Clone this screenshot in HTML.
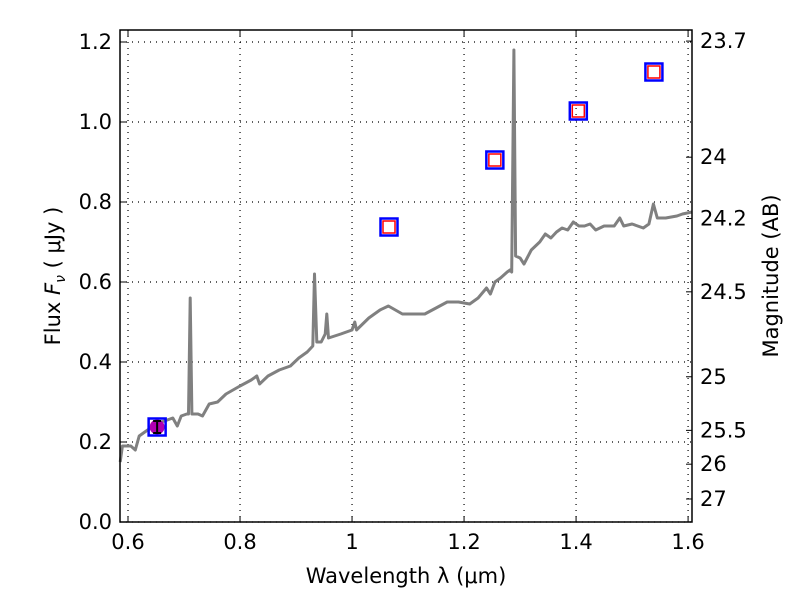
<!DOCTYPE html>
<html><head><meta charset="utf-8"><style>
body{margin:0;background:#fff;font-family:"Liberation Sans","DejaVu Sans",sans-serif}
svg text{font-family:"DejaVu Sans","Liberation Sans",sans-serif}
</style></head><body>
<svg id="chart" width="800" height="600" xmlns="http://www.w3.org/2000/svg">
<rect width="800" height="600" fill="#fff"/>
<g id="grid"></g>
<g id="marks"></g>
<rect x="120" y="30" width="572" height="492" fill="none" stroke="#000" stroke-width="1.5"/>
<g id="axes"></g>
<text x="406" y="583" font-size="21" text-anchor="middle">Wavelength  λ (μm)</text>
<text transform="translate(60,276) rotate(-90)" font-size="21" text-anchor="middle">Flux  <tspan font-style="italic">F</tspan><tspan font-style="italic" font-size="14" dy="5">ν</tspan><tspan dy="-5">  ( μJy )</tspan></text>
<text transform="translate(778,276) rotate(-90)" font-size="21" text-anchor="middle">Magnitude (AB)</text>
</svg>
<script>
const specWave=[0.586,0.590,0.605,0.613,0.620,0.640,0.660,0.680,0.688,0.695,0.705,0.708,0.711,0.714,0.725,0.733,0.745,0.760,0.775,0.800,0.820,0.830,0.835,0.850,0.870,0.890,0.905,0.920,0.930,0.933,0.937,0.945,0.952,0.955,0.958,0.980,1.000,1.005,1.008,1.030,1.050,1.065,1.090,1.110,1.130,1.150,1.170,1.190,1.210,1.225,1.240,1.247,1.255,1.265,1.277,1.282,1.285,1.289,1.292,1.300,1.307,1.320,1.335,1.345,1.355,1.365,1.375,1.385,1.395,1.405,1.415,1.425,1.435,1.450,1.468,1.478,1.485,1.500,1.520,1.530,1.538,1.545,1.560,1.580,1.590,1.607];
const specFlux=[0.15,0.19,0.19,0.18,0.215,0.235,0.25,0.26,0.24,0.265,0.27,0.27,0.56,0.27,0.27,0.265,0.295,0.30,0.32,0.34,0.355,0.365,0.345,0.365,0.38,0.39,0.41,0.425,0.44,0.62,0.45,0.45,0.47,0.52,0.46,0.47,0.48,0.50,0.48,0.51,0.53,0.54,0.52,0.52,0.52,0.535,0.55,0.55,0.545,0.56,0.585,0.57,0.60,0.61,0.625,0.63,0.625,1.18,0.665,0.66,0.645,0.68,0.70,0.72,0.71,0.725,0.735,0.73,0.75,0.74,0.74,0.745,0.73,0.74,0.74,0.76,0.74,0.745,0.735,0.745,0.795,0.76,0.76,0.765,0.77,0.775];
const photWave=[0.652,1.066,1.255,1.404,1.539];
const photFlux=[0.2375,0.7375,0.905,1.0275,1.125];
const xTicks=[0.6,0.8,1.0,1.2,1.4,1.6];
const xTickLabels=["0.6","0.8","1","1.2","1.4","1.6"];
const yTicks=[0,0.2,0.4,0.6,0.8,1.0,1.2];
const yTickLabels=["0.0","0.2","0.4","0.6","0.8","1.0","1.2"];
const magTicks=[23.7,24,24.2,24.5,25,25.5,26,27];
const magLabels=["23.7","24","24.2","24.5","25","25.5","26","27"];

const X0=120,X1=692,Y0=522,Y1=30,XMIN=0.5857,XMAX=1.607,YMIN=0,YMAX=1.23;
const sx=v=>X0+(v-XMIN)/(XMAX-XMIN)*(X1-X0);
const sy=v=>Y0-(v-YMIN)/(YMAX-YMIN)*(Y0-Y1);
const NS="http://www.w3.org/2000/svg";
function mk(tag,attrs,parent){const e=document.createElementNS(NS,tag);for(const k in attrs)e.setAttribute(k,attrs[k]);parent.appendChild(e);return e;}
const grid=document.getElementById('grid'),marks=document.getElementById('marks'),axes=document.getElementById('axes');

xTicks.forEach((t,i)=>{
  const x=sx(t);
  const g=mk('line',{x1:x,x2:x,y1:Y1,y2:Y0,stroke:'#000','stroke-dasharray':'1,5','stroke-width':1.2},grid);
  
  
  mk('line',{x1:x,x2:x,y1:Y0,y2:Y0-6,stroke:'#000'},axes);
  mk('line',{x1:x,x2:x,y1:Y1,y2:Y1+6,stroke:'#000'},axes);
  const tx=mk('text',{x:x,y:Y0+27,'font-size':21,'text-anchor':'middle'},axes);
  tx.textContent=xTickLabels[i];
  
  
});
yTicks.forEach((t,i)=>{
  const y=sy(t);
  const g=mk('line',{x1:X0,x2:X1,y1:y,y2:y,stroke:'#000','stroke-dasharray':'1,5','stroke-width':1.2},grid);
  
  
  mk('line',{x1:X0,x2:X0+6,y1:y,y2:y,stroke:'#000'},axes);
  const tx=mk('text',{x:X0-8,y:y+7,'font-size':21,'text-anchor':'end'},axes);
  tx.textContent=yTickLabels[i];
  
  
});
magTicks.forEach((m,i)=>{
  const y=sy(Math.pow(10,(23.9-m)/2.5));
  mk('line',{x1:X1,x2:X1-6,y1:y,y2:y,stroke:'#000'},axes);
  const tx=mk('text',{x:X1+8,y:y+7,'font-size':21,'text-anchor':'start'},axes);
  tx.textContent=magLabels[i];
  
  
});

const pts=specWave.map((w,i)=>sx(w).toFixed(1)+','+sy(specFlux[i]).toFixed(1)).join(' ');
const line=mk('polyline',{points:pts,fill:'none',stroke:'#808080','stroke-width':3,'stroke-linejoin':'round'},marks);



photWave.forEach((w,i)=>{
  const x=sx(w),y=sy(photFlux[i]);
  if(i===0){
    const c=mk('circle',{cx:x,cy:y,r:7.5,fill:'#b000b0'},marks);
    
    
    const eb=mk('path',{d:`M${x-4},${y-6}H${x+4}M${x},${y-6}V${y+6}M${x-4},${y+6}H${x+4}`,stroke:'#000','stroke-width':2,fill:'none'},marks);
    
    
  }
  const o=mk('rect',{x:x-8.5,y:y-8.5,width:17,height:17,fill:'none',stroke:'#0000ff','stroke-width':2.5},marks);
  
  
  if(i>0){
    const r=mk('rect',{x:x-6,y:y-6,width:12,height:12,fill:'none',stroke:'#ff0000','stroke-width':1.5},marks);
    
    
  }
});
</script>
</body></html>
